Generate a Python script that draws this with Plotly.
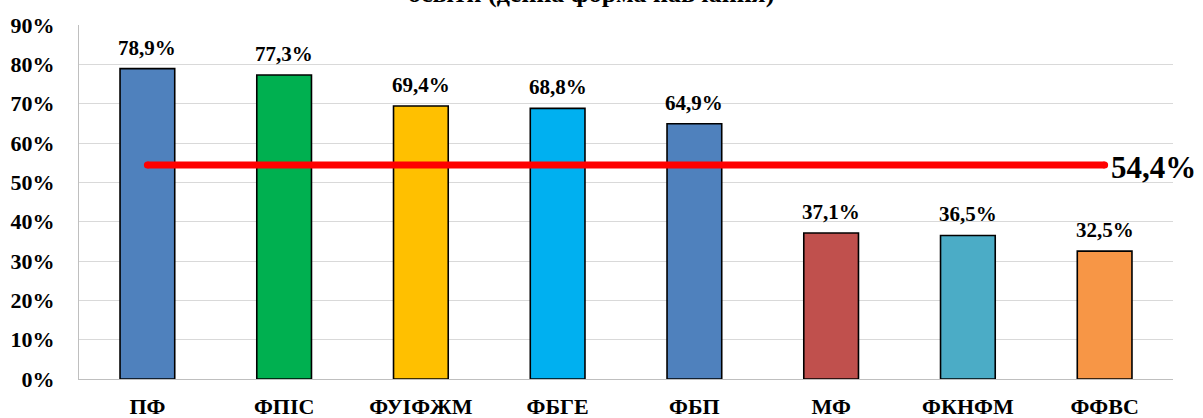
import plotly.graph_objects as go

categories = ["ПФ", "ФПІС", "ФУІФЖМ", "ФБГЕ", "ФБП", "МФ", "ФКНФМ", "ФФВС"]
values = [78.9, 77.3, 69.4, 68.8, 64.9, 37.1, 36.5, 32.5]
colors = ["#4F81BD", "#00B050", "#FFC000", "#00B0F0", "#4F81BD", "#C0504D", "#4BACC6", "#F79646"]
average = 54.4
y_ticks = [0, 10, 20, 30, 40, 50, 60, 70, 80, 90]
y_tick_labels = [f"{t}%" for t in y_ticks]
title_text = "освіти (денна форма навчання)"

def fmt(v):
    return f"{v:.1f}".replace(".", ",") + "%"

FONT = "Liberation Serif"

fig = go.Figure()
fig.add_trace(go.Bar(
    x=categories, y=values,
    marker=dict(color=colors, line=dict(color="#000000", width=1.6)),
    hoverinfo="skip",
))
fig.add_trace(go.Scatter(
    x=[categories[0], categories[-1]], y=[average, average],
    mode="lines+markers",
    line=dict(color="#FF0000", width=7),
    marker=dict(color="#FF0000", size=7, line=dict(width=0)),
    hoverinfo="skip",
))

annotations = []
for c, v in zip(categories, values):
    annotations.append(dict(
        x=c, y=v, xref="x", yref="y", text=f"<b>{fmt(v)}</b>",
        showarrow=False, yanchor="bottom", yshift=7,
        font=dict(family=FONT, size=21, color="#000000"),
    ))
annotations.append(dict(
    x=categories[-1], y=average, xref="x", yref="y", text=f"<b>{fmt(average)}</b>",
    showarrow=False, xanchor="left", yanchor="middle", xshift=4, yshift=-2,
    font=dict(family=FONT, size=31, color="#000000"),
))
annotations.append(dict(
    x=0.468, y=1 + 15 / 354, xref="paper", yref="paper",
    text=f"<b>{title_text}</b>", showarrow=False, yanchor="bottom",
    font=dict(family=FONT, size=26, color="#000000"),
))

fig.update_layout(
    width=1203, height=418,
    margin=dict(l=79, r=30, t=25, b=39),
    paper_bgcolor="#FFFFFF", plot_bgcolor="#FFFFFF",
    showlegend=False,
    bargap=0.6,
    annotations=annotations,
)
fig.update_xaxes(
    range=[-0.5, len(categories) - 0.5],
    showgrid=False, showline=True, linecolor="#BFBFBF", linewidth=1,
    ticks="", tickfont=dict(family=FONT, size=22, color="#000000"),
    ticklabelstandoff=8, automargin=False,
    tickvals=categories, ticktext=[f"<b>{c}</b>" for c in categories],
)
fig.update_yaxes(
    range=[0, 90], tickvals=y_ticks, ticktext=[f"<b>{t}</b>" for t in y_tick_labels],
    showgrid=True, gridcolor="#D9D9D9", gridwidth=1,
    showline=True, linecolor="#BFBFBF", linewidth=1,
    ticks="", tickfont=dict(family=FONT, size=22, color="#000000"),
    ticklabelstandoff=19, zeroline=False, automargin=False,
)

fig.write_html("out.html", config={"displayModeBar": False},
               post_script="document.body.style.margin='0';document.body.style.overflow='hidden';")
